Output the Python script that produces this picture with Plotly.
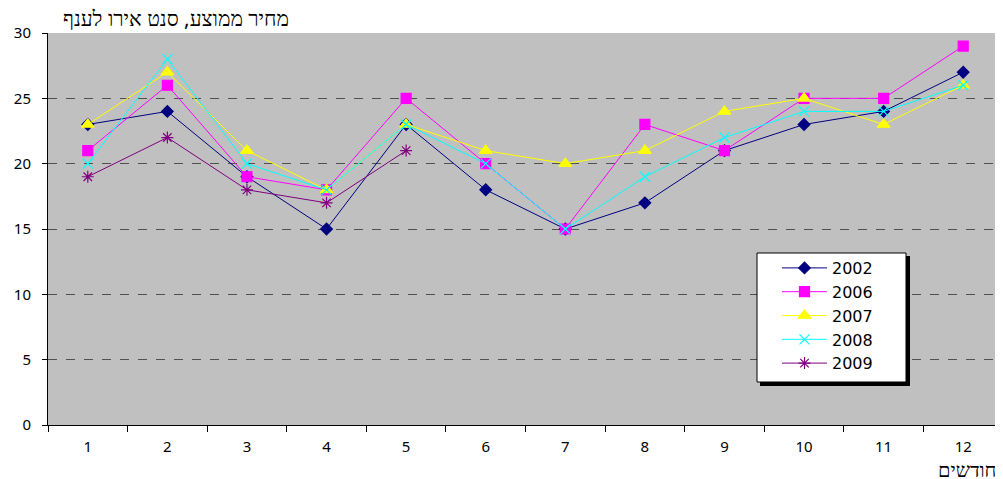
import plotly.graph_objects as go

months = ["1", "2", "3", "4", "5", "6", "7", "8", "9", "10", "11", "12"]
y2002 = [23, 24, 19, 15, 23, 18, 15, 17, 21, 23, 24, 27]
y2006 = [21, 26, 19, 18, 25, 20, 15, 23, 21, 25, 25, 29]
y2007 = [23, 27, 21, 18, 23, 21, 20, 21, 24, 25, 23, 26]
y2008 = [20, 28, 20, 18, 23, 20, 15, 19, 22, 24, 24, 26]
y2009 = [19, 22, 18, 17, 21]

series = [
    ("2002", y2002, "#000080", "diamond", 9),
    ("2006", y2006, "#FF00FF", "square", 10),
    ("2007", y2007, "#FFFF00", "triangle-up", 11),
    ("2008", y2008, "#00FFFF", "x-thin-open", 10),
    ("2009", y2009, "#800080", "asterisk-open", 10),
]

# page body adds an 8px offset; figure drawn in a 995x471 area
OFF = 8
W, H = 1003 - OFF, 479 - OFF
L, T, B = 48 - OFF, 33 - OFF, 54
PW, PH = W - L, H - T - B


def px(xp):
    return (xp - OFF - L) / PW


def py(yp):
    return (H - B - (yp - OFF)) / PH


fig = go.Figure()
for name, vals, col, sym, sz in series:
    fig.add_trace(go.Scatter(
        x=months[:len(vals)], y=vals, name=name, mode="lines+markers",
        line=dict(color=col, width=1),
        marker=dict(symbol=sym, size=sz, color=col, line=dict(color=col, width=1.2)),
    ))

fig.update_layout(
    width=W, height=H,
    margin=dict(l=L, r=0, t=T, b=B),
    paper_bgcolor="white", plot_bgcolor="#C0C0C0",
    font=dict(family="Noto Sans", size=15, color="black"),
    showlegend=True,
    legend=dict(
        x=px(777), y=py(251), xanchor="left", yanchor="top",
        bgcolor="rgba(0,0,0,0)", borderwidth=0,
        font=dict(family="DejaVu Sans", size=16), itemwidth=45,
    ),
    xaxis=dict(
        type="category", range=[-0.5, 11.5], tickson="boundaries",
        ticks="outside", ticklen=6, tickcolor="black",
        showline=True, linecolor="black", linewidth=1,
        showgrid=False, tickfont=dict(size=15), fixedrange=True,
        ticklabelstandoff=8,
    ),
    yaxis=dict(
        range=[0, 30], dtick=5, ticks="outside", ticklen=5, tickcolor="black",
        showline=True, linecolor="black", linewidth=1,
        showgrid=True, gridcolor="#505050", griddash="dash", gridwidth=1,
        zeroline=False, tickfont=dict(size=15), ticklabelstandoff=8,
    ),
    shapes=[
        dict(type="rect", xref="paper", yref="paper", layer="above",
             x0=px(760), x1=px(910), y0=py(386), y1=py(256),
             fillcolor="black", line=dict(width=0)),
        dict(type="rect", xref="paper", yref="paper", layer="above",
             x0=px(757), x1=px(906), y0=py(382), y1=py(253),
             fillcolor="white", line=dict(color="black", width=1)),
    ],
    annotations=[
        dict(text="מחיר ממוצע, סנט אירו לענף", xref="paper", yref="paper",
             x=px(61), y=1.0, xanchor="left", yanchor="bottom", yshift=-1,
             showarrow=False, font=dict(size=21)),
        dict(text="חודשים", xref="paper", yref="paper",
             x=px(936), y=0, xanchor="left", yanchor="middle", yshift=-44,
             showarrow=False, font=dict(size=20)),
    ],
)

fig.write_html("out.html")
